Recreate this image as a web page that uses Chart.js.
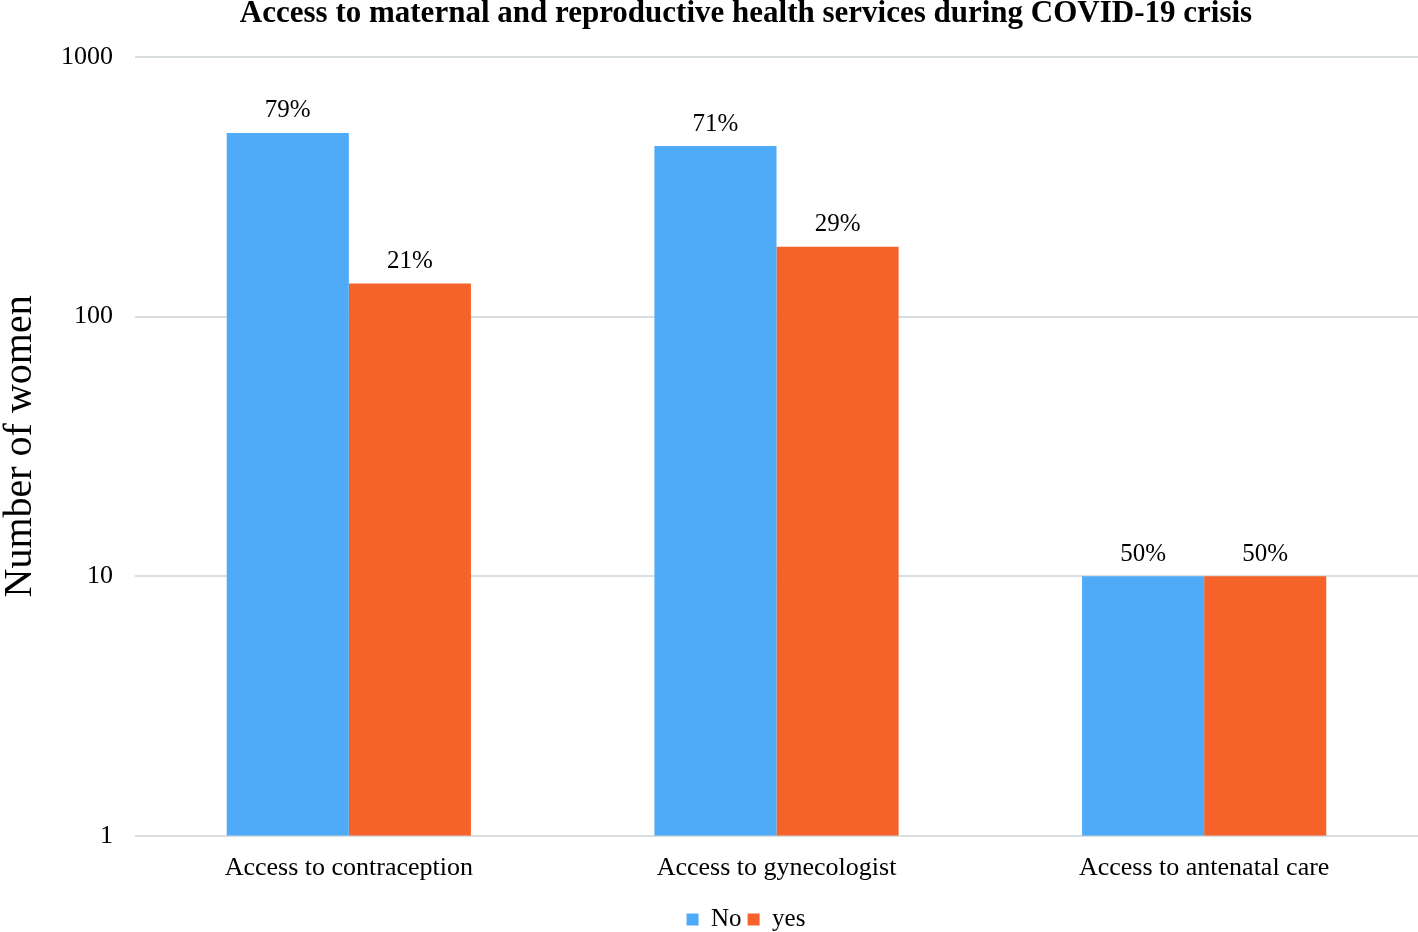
<!DOCTYPE html>
<html>
<head>
<meta charset="utf-8">
<script src="https://cdn.jsdelivr.net/npm/chart.js@4"></script>
<style>
html,body{margin:0;padding:0;background:#fff;}
#wrap{width:1418px;height:932px;position:relative;}
</style>
</head>
<body>
<div id="wrap"><canvas id="c" width="1418" height="932"></canvas></div>
<script>
const categories = ['Access to contraception', 'Access to gynecologist', 'Access to antenatal care'];
const seriesNames = ['No', 'yes'];
const noValues = [510, 454, 10];
const yesValues = [134, 186, 10];
const noPct = ['79%', '71%', '50%'];
const yesPct = ['21%', '29%', '50%'];
const yTickValues = [1, 10, 100, 1000];
const yTickLabels = ['1', '10', '100', '1000'];
const titleText = 'Access to maternal and reproductive health services during COVID-19 crisis';
const yAxisTitle = 'Number of women';

const FONT = "'Liberation Serif', 'Times New Roman', serif";
const pctLabels = [noPct, yesPct];

const shiftPlugin = {
  id: 'shiftBoxes',
  afterLayout(chart) {
    const dx = 37;
    [chart.titleBlock, chart.legend].forEach(b => {
      if (b) { b.left += dx; b.right += dx; }
    });
  }
};

const labelPlugin = {
  id: 'pctLabels',
  afterDatasetsDraw(chart) {
    const ctx = chart.ctx;
    ctx.save();
    ctx.font = '25px ' + FONT;
    ctx.fillStyle = '#000';
    ctx.textAlign = 'center';
    ctx.textBaseline = 'middle';
    chart.data.datasets.forEach((ds, di) => {
      const meta = chart.getDatasetMeta(di);
      meta.data.forEach((bar, i) => {
        ctx.fillText(pctLabels[di][i], bar.x, bar.y - 22);
      });
    });
    ctx.restore();
  }
};

new Chart(document.getElementById('c'), {
  type: 'bar',
  data: {
    labels: categories,
    datasets: [
      { label: seriesNames[0], data: noValues, backgroundColor: '#4FAAF7', borderWidth: 0 },
      { label: seriesNames[1], data: yesValues, backgroundColor: '#F5622A', borderWidth: 0 }
    ]
  },
  options: {
    responsive: false,
    animation: false,
    devicePixelRatio: 1,
    layout: { padding: { left: 0, right: 0, top: 0, bottom: -10 } },
    datasets: { bar: { categoryPercentage: 0.571, barPercentage: 1.0 } },
    plugins: {
      title: {
        display: true,
        text: titleText,
        color: '#000',
        font: { family: FONT, size: 31, weight: 'bold', lineHeight: 1 },
        padding: { top: -2, bottom: 28 }
      },
      legend: {
        display: true,
        position: 'bottom',
        labels: {
          color: '#000',
          font: { family: FONT, size: 25 },
          boxWidth: 12,
          boxHeight: 12,
          padding: 6
        }
      },
      tooltip: { enabled: false }
    },
    scales: {
      x: {
        grid: { display: false, drawTicks: false },
        border: { display: false },
        ticks: { color: '#000', font: { family: FONT, size: 26 }, padding: 17, maxRotation: 0 }
      },
      y: {
        type: 'logarithmic',
        min: 1,
        max: 1000,
        afterBuildTicks(scale) {
          scale.ticks = yTickValues.map(v => ({ value: v }));
        },
        afterFit(scale) { scale.width = 135; },
        grid: { color: '#D9DEDE', lineWidth: 2, drawTicks: false },
        border: { display: false },
        ticks: {
          color: '#000',
          font: { family: FONT, size: 26 },
          padding: 22,
          callback: (v) => { const i = yTickValues.indexOf(v); return i >= 0 ? yTickLabels[i] : ''; }
        },
        title: {
          display: true,
          text: yAxisTitle,
          color: '#000',
          font: { family: FONT, size: 40, lineHeight: 1 },
          padding: { top: 0, bottom: 0 }
        }
      }
    }
  },
  plugins: [shiftPlugin, labelPlugin]
});
</script>
</body>
</html>
